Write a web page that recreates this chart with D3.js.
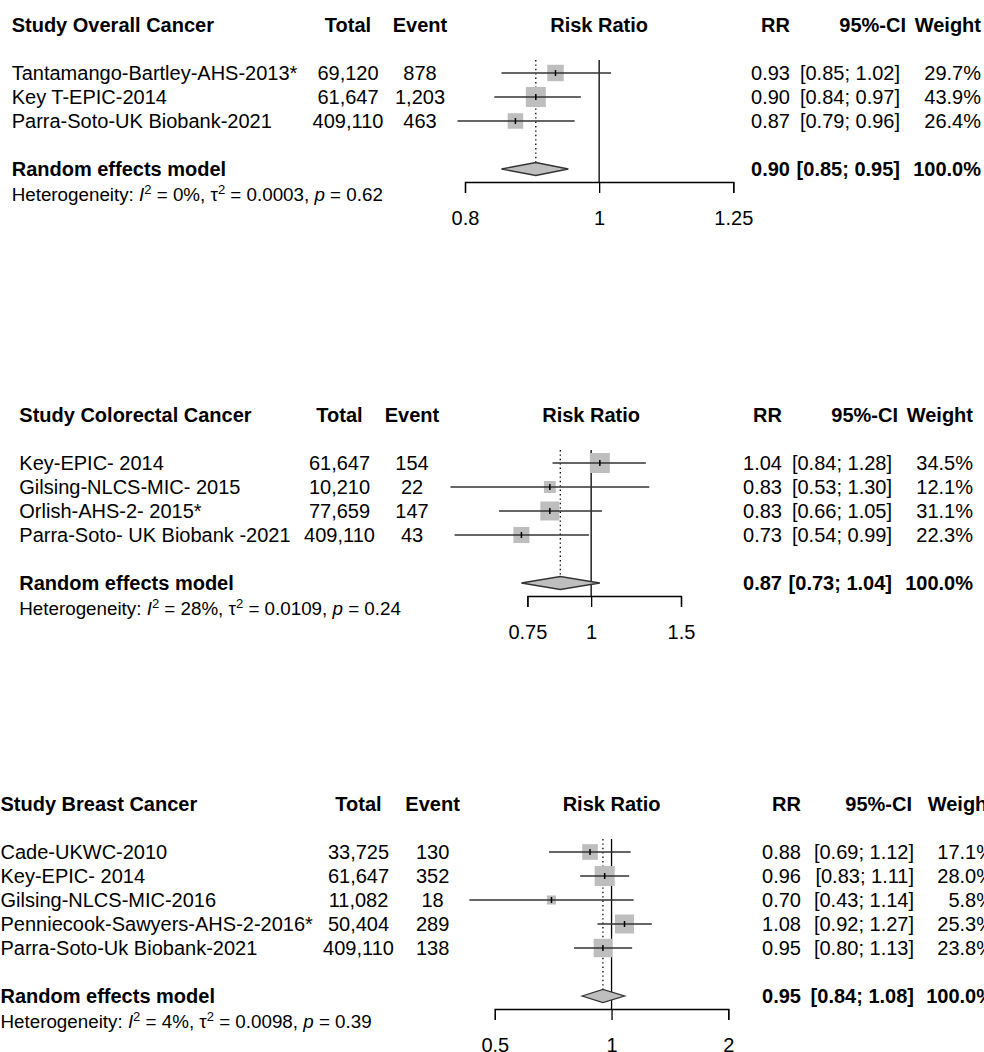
<!DOCTYPE html>
<html>
<head>
<meta charset="utf-8">
<script src="https://cdn.jsdelivr.net/npm/d3@7"></script>
<style>
  body { margin: 0; background: #fff; }
  svg { display: block; font-family: "Liberation Sans", Arial, sans-serif; }
</style>
</head>
<body>
<div id="chart"></div>
<script>
// overall cancer
const overallStudy = ["Tantamango-Bartley-AHS-2013*", "Key T-EPIC-2014", "Parra-Soto-UK Biobank-2021"];
const overallTotal = [69120, 61647, 409110];
const overallEvent = [878, 1203, 463];
const overallRR = [0.93, 0.90, 0.87];
const overallLower = [0.85, 0.84, 0.79];
const overallUpper = [1.02, 0.97, 0.96];
const overallWeight = [29.7, 43.9, 26.4];
const overallPooled = [0.90, 0.85, 0.95];
const overallHet = ["0%", "0.0003", "0.62"];
const overallTicks = [0.8, 1, 1.25];

// colorectal cancer
const colorectalStudy = ["Key-EPIC- 2014", "Gilsing-NLCS-MIC- 2015", "Orlish-AHS-2- 2015*", "Parra-Soto- UK Biobank -2021"];
const colorectalTotal = [61647, 10210, 77659, 409110];
const colorectalEvent = [154, 22, 147, 43];
const colorectalRR = [1.04, 0.83, 0.83, 0.73];
const colorectalLower = [0.84, 0.53, 0.66, 0.54];
const colorectalUpper = [1.28, 1.30, 1.05, 0.99];
const colorectalWeight = [34.5, 12.1, 31.1, 22.3];
const colorectalPooled = [0.87, 0.73, 1.04];
const colorectalHet = ["28%", "0.0109", "0.24"];
const colorectalTicks = [0.75, 1, 1.5];

// breast cancer
const breastStudy = ["Cade-UKWC-2010", "Key-EPIC- 2014", "Gilsing-NLCS-MIC-2016", "Penniecook-Sawyers-AHS-2-2016*", "Parra-Soto-Uk Biobank-2021"];
const breastTotal = [33725, 61647, 11082, 50404, 409110];
const breastEvent = [130, 352, 18, 289, 138];
const breastRR = [0.88, 0.96, 0.70, 1.08, 0.95];
const breastLower = [0.69, 0.83, 0.43, 0.92, 0.80];
const breastUpper = [1.12, 1.11, 1.14, 1.27, 1.13];
const breastWeight = [17.1, 28.0, 5.8, 25.3, 23.8];
const breastPooled = [0.95, 0.84, 1.08];
const breastHet = ["4%", "0.0098", "0.39"];
const breastTicks = [0.5, 1, 2];

const width = 984;
const height = 1052;
const rowH = 24;
const fontSize = 20;
const hetSize = 18.8;
const supSize = 13;
const boxMax = 20;
const grey = "#bebebe";

const fmtN = d3.format(",");
const fmt2 = d3.format(".2f");
const fmtW = d => d3.format(".1f")(d) + "%";
const fmtTick = d3.format("~g");

const svg = d3.select("#chart")
  .append("svg")
  .attr("width", width)
  .attr("height", height);

svg.append("rect").attr("width", width).attr("height", height).attr("fill", "#fff");

const panels = [
  {title: "Study Overall Cancer", study: overallStudy, total: overallTotal, event: overallEvent,
   rr: overallRR, lower: overallLower, upper: overallUpper, weight: overallWeight,
   pooled: overallPooled, het: overallHet, ticks: overallTicks,
   top: 25, left: 11.7, totalX: 348, eventX: 420, range: [465, 733.3],
   rrX: 790, ciX: 900, ciHeadX: 906, wX: 981},
  {title: "Study Colorectal Cancer", study: colorectalStudy, total: colorectalTotal, event: colorectalEvent,
   rr: colorectalRR, lower: colorectalLower, upper: colorectalUpper, weight: colorectalWeight,
   pooled: colorectalPooled, het: colorectalHet, ticks: colorectalTicks,
   top: 415, left: 19.3, totalX: 339.5, eventX: 412, range: [527.4, 681],
   rrX: 782, ciX: 892, ciHeadX: 898, wX: 973},
  {title: "Study Breast Cancer", study: breastStudy, total: breastTotal, event: breastEvent,
   rr: breastRR, lower: breastLower, upper: breastUpper, weight: breastWeight,
   pooled: breastPooled, het: breastHet, ticks: breastTicks,
   top: 804, left: 0.5, totalX: 358.5, eventX: 432.6, range: [494.8, 728.3],
   rrX: 801, ciX: 914, ciHeadX: 912, wX: 994}
];

const drawPanel = (p) => {
  const g = svg.append("g");
  const n = p.study.length;
  const rowY = i => p.top + 2 * rowH + i * rowH;
  const reY = p.top + (n + 3) * rowH;
  const axisY = reY + 13;
  const lineTop = rowY(0) - 13;

  const x = d3.scaleLog()
    .domain([p.ticks[0], p.ticks[p.ticks.length - 1]])
    .range(p.range);

  const box = d3.scaleSqrt()
    .domain([0, d3.max(p.weight)])
    .range([0, boxMax]);

  const text = (str, tx, ty, anchor, bold) => g.append("text")
    .text(str)
    .attr("x", tx)
    .attr("y", ty)
    .attr("dy", "0.35em")
    .attr("text-anchor", anchor)
    .attr("font-size", fontSize)
    .attr("font-weight", bold ? "bold" : "normal")
    .attr("fill", "#000");

  // headers
  text(p.title, p.left, p.top, "start", true);
  text("Total", p.totalX, p.top, "middle", true);
  text("Event", p.eventX, p.top, "middle", true);
  text("Risk Ratio", x(1), p.top, "middle", true);
  text("RR", p.rrX, p.top, "end", true);
  text("95%-CI", p.ciHeadX, p.top, "end", true);
  text("Weight", p.wX, p.top, "end", true);

  // study rows
  p.study.forEach((s, i) => {
    const y = rowY(i);
    text(s, p.left, y, "start", false);
    text(fmtN(p.total[i]), p.totalX, y, "middle", false);
    text(fmtN(p.event[i]), p.eventX, y, "middle", false);
    text(fmt2(p.rr[i]), p.rrX, y, "end", false);
    text(`[${fmt2(p.lower[i])}; ${fmt2(p.upper[i])}]`, p.ciX, y, "end", false);
    text(fmtW(p.weight[i]), p.wX, y, "end", false);
  });

  // pooled row
  text("Random effects model", p.left, reY, "start", true);
  text(fmt2(p.pooled[0]), p.rrX, reY, "end", true);
  text(`[${fmt2(p.pooled[1])}; ${fmt2(p.pooled[2])}]`, p.ciX, reY, "end", true);
  text("100.0%", p.wX, reY, "end", true);

  // heterogeneity
  const het = g.append("text")
    .attr("x", p.left)
    .attr("y", reY + 25)
    .attr("dy", "0.35em")
    .attr("font-size", hetSize)
    .attr("fill", "#000");
  het.append("tspan").text("Heterogeneity: ");
  het.append("tspan").text("I").attr("font-style", "italic");
  het.append("tspan").text("2").attr("font-size", supSize).attr("dy", -7);
  het.append("tspan").text(` = ${p.het[0]}, τ`).attr("dy", 7);
  het.append("tspan").text("2").attr("font-size", supSize).attr("dy", -7);
  het.append("tspan").text(` = ${p.het[1]}, `).attr("dy", 7);
  het.append("tspan").text("p").attr("font-style", "italic");
  het.append("tspan").text(` = ${p.het[2]}`);

  // line of no effect
  g.append("line")
    .attr("x1", x(1)).attr("x2", x(1))
    .attr("y1", lineTop).attr("y2", axisY)
    .attr("stroke", "#000")
    .attr("stroke-width", 1.3);

  // pooled estimate dotted line
  g.append("line")
    .attr("x1", x(p.pooled[0])).attr("x2", x(p.pooled[0]))
    .attr("y1", lineTop).attr("y2", reY - 6)
    .attr("stroke", "#000")
    .attr("stroke-width", 1.3)
    .attr("stroke-dasharray", "1.4 3");

  // study CIs, squares, centre marks
  const rows = p.study.map((s, i) => ({i, rr: p.rr[i], lo: p.lower[i], hi: p.upper[i], w: p.weight[i]}));

  g.selectAll(".box")
    .data(rows)
    .enter()
    .append("rect")
    .attr("x", d => x(d.rr) - box(d.w) / 2)
    .attr("y", d => rowY(d.i) - box(d.w) / 2)
    .attr("width", d => box(d.w))
    .attr("height", d => box(d.w))
    .attr("fill", grey);

  g.selectAll(".ci")
    .data(rows)
    .enter()
    .append("line")
    .attr("x1", d => x(d.lo))
    .attr("x2", d => x(d.hi))
    .attr("y1", d => rowY(d.i))
    .attr("y2", d => rowY(d.i))
    .attr("stroke", "#333")
    .attr("stroke-width", 1.3);

  g.selectAll(".mark")
    .data(rows)
    .enter()
    .append("line")
    .attr("x1", d => x(d.rr))
    .attr("x2", d => x(d.rr))
    .attr("y1", d => rowY(d.i) - 3)
    .attr("y2", d => rowY(d.i) + 3)
    .attr("stroke", "#000")
    .attr("stroke-width", 1.5);

  // diamond
  const [est, lo, hi] = p.pooled;
  g.append("path")
    .attr("d", `M${x(lo)},${reY} L${x(est)},${reY - 6.5} L${x(hi)},${reY} L${x(est)},${reY + 6.5} Z`)
    .attr("fill", grey)
    .attr("stroke", "#333")
    .attr("stroke-width", 1.3);

  // axis
  const axis = d3.axisBottom(x)
    .tickValues(p.ticks)
    .tickFormat(fmtTick)
    .tickSize(11)
    .tickSizeOuter(11)
    .tickPadding(18);

  const ax = g.append("g")
    .attr("transform", `translate(0,${axisY})`)
    .call(axis);
  ax.select(".domain").attr("stroke", "#000").attr("stroke-width", 1.3);
  ax.selectAll(".tick line").attr("stroke", "#000").attr("stroke-width", 1.3);
  ax.selectAll(".tick text")
    .attr("font-size", fontSize)
    .attr("font-family", "\"Liberation Sans\", Arial, sans-serif")
    .attr("fill", "#000");
};

panels.forEach(drawPanel);
</script>
</body>
</html>
